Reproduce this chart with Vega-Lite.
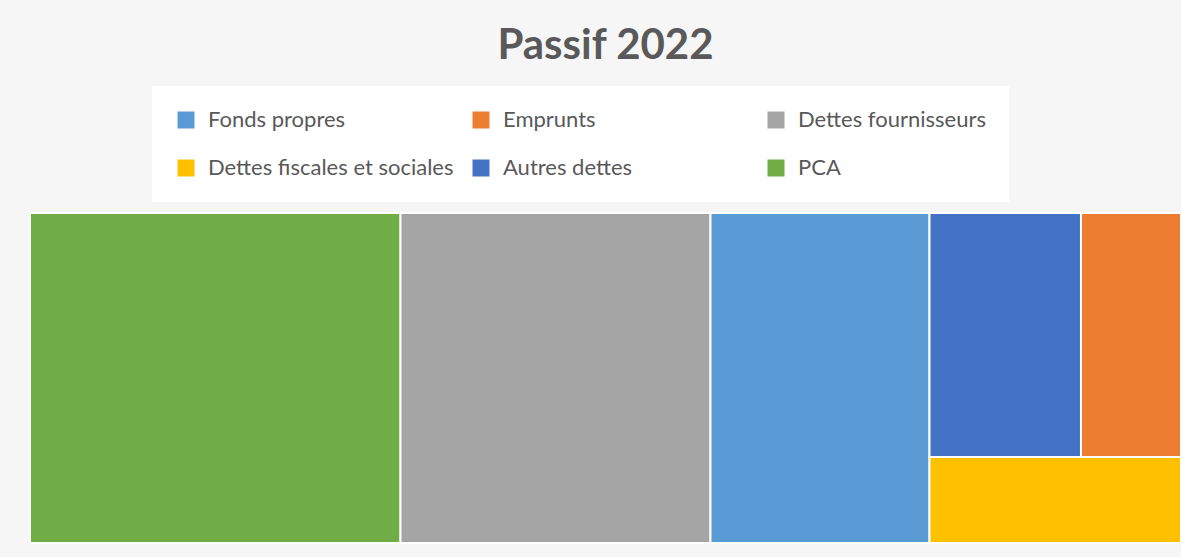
{
  "$schema": "https://vega.github.io/schema/vega-lite/v6.json",
  "autosize": "none",
  "width": 1151,
  "height": 330,
  "padding": {"left": 30, "top": 213, "right": 0, "bottom": 14},
  "background": "#f6f6f6",
  "title": {
    "text": "Passif 2022",
    "font": "Lato",
    "fontSize": 42,
    "fontWeight": "bold",
    "color": "#595959",
    "anchor": "middle",
    "offset": 18
  },
  "data": {
    "values": [
      {"cat": "PCA", "x0": 0, "x1": 32.19, "y0": 0, "y1": 100},
      {"cat": "Dettes fournisseurs", "x0": 32.19, "x1": 59.12, "y0": 0, "y1": 100},
      {"cat": "Fonds propres", "x0": 59.12, "x1": 78.15, "y0": 0, "y1": 100},
      {"cat": "Autres dettes", "x0": 78.15, "x1": 91.31, "y0": 26.06, "y1": 100},
      {"cat": "Emprunts", "x0": 91.31, "x1": 100, "y0": 26.06, "y1": 100},
      {"cat": "Dettes fiscales et sociales", "x0": 78.15, "x1": 100, "y0": 0, "y1": 26.06}
    ]
  },
  "mark": {"type": "rect", "stroke": "#ffffff", "strokeWidth": 2},
  "encoding": {
    "x": {"field": "x0", "type": "quantitative", "scale": {"domain": [0, 100], "nice": false, "zero": false}, "axis": null},
    "x2": {"field": "x1"},
    "y": {"field": "y0", "type": "quantitative", "scale": {"domain": [0, 100], "nice": false, "zero": false}, "axis": null},
    "y2": {"field": "y1"},
    "color": {
      "field": "cat",
      "type": "nominal",
      "scale": {
        "domain": ["Fonds propres", "Emprunts", "Dettes fournisseurs", "Dettes fiscales et sociales", "Autres dettes", "PCA"],
        "range": ["#5B9BD5", "#ED7D31", "#A5A5A5", "#FFC000", "#4472C4", "#70AD47"]
      },
      "legend": {
        "title": null,
        "orient": "none",
        "legendX": 122,
        "legendY": -127,
        "direction": "horizontal",
        "columns": 3,
        "gridAlign": "all",
        "columnPadding": 16,
        "rowPadding": 26,
        "padding": 23,
        "fillColor": "#ffffff",
        "symbolType": "square",
        "symbolSize": 289,
        "symbolStrokeWidth": 0,
        "symbolOffset": 0,
        "labelOffset": 11,
        "labelFont": "Lato",
        "labelFontSize": 22,
        "labelColor": "#595959",
        "labelLimit": 400
      }
    }
  },
  "config": {"view": {"stroke": null}}
}
